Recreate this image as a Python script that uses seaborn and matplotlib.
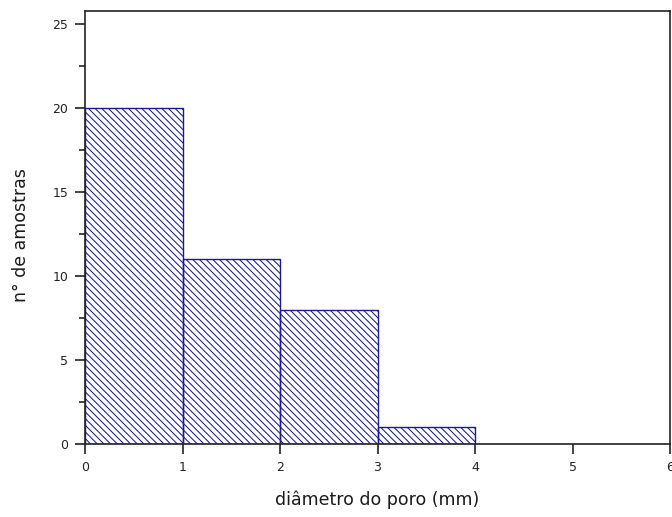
import matplotlib
matplotlib.use("Agg")
import matplotlib.pyplot as plt
import seaborn as sns
import numpy as np
from matplotlib.ticker import MultipleLocator

bin_edges = [0, 1, 2, 3, 4]
counts = [20, 11, 8, 1]
bin_centers = [0.5, 1.5, 2.5, 3.5]

sns.set_style("ticks")
plt.rcParams['font.family'] = ['DejaVu Sans']
plt.rcParams['hatch.linewidth'] = 0.75
plt.rcParams['hatch.color'] = '#3a3aa0'

fig = plt.figure(figsize=(6.72, 5.17), dpi=100)
ax = fig.add_axes([85/672, 1-444/517, (670-85)/672, (444-11)/517])

sns.histplot(x=bin_centers, weights=counts, bins=bin_edges, ax=ax,
             stat='count', fill=False, element='bars',
             edgecolor='#1a1a8c', linewidth=1.0)
for p in ax.patches:
    p.set_hatch('\\' * 5)
    p.set_facecolor('none')
    p.set_fill(False)
    p.set_edgecolor('#1a1a8c')

ax.set_xlim(0, 6)
ax.set_ylim(0, 25.8)
ax.xaxis.set_major_locator(MultipleLocator(1))
ax.yaxis.set_major_locator(MultipleLocator(5))
ax.yaxis.set_minor_locator(MultipleLocator(2.5))
ax.tick_params(axis='both', which='major', direction='out', length=7, width=1.2,
               labelsize=9, colors='#222222', pad=5)
ax.tick_params(axis='y', which='minor', direction='out', length=4, width=1.2)
ax.tick_params(axis='x', which='minor', bottom=False)
for s in ax.spines.values():
    s.set_visible(True)
    s.set_linewidth(1.2)
    s.set_color('#222222')
ax.set_xlabel('diâmetro do poro (mm)', fontsize=12.5, color='#1a1a1a')
ax.set_ylabel('n° de amostras', fontsize=12.5, color='#1a1a1a')
ax.xaxis.set_label_coords(0.5, -(500 - 444) / (444 - 11), transform=ax.transAxes)
ax.yaxis.set_label_coords(-(85 - 21) / (670 - 85), (444 - 235) / (444 - 11), transform=ax.transAxes)
ax.xaxis.label.set_va('center')
ax.yaxis.label.set_va('center')

fig.savefig('out.png', dpi=100)
